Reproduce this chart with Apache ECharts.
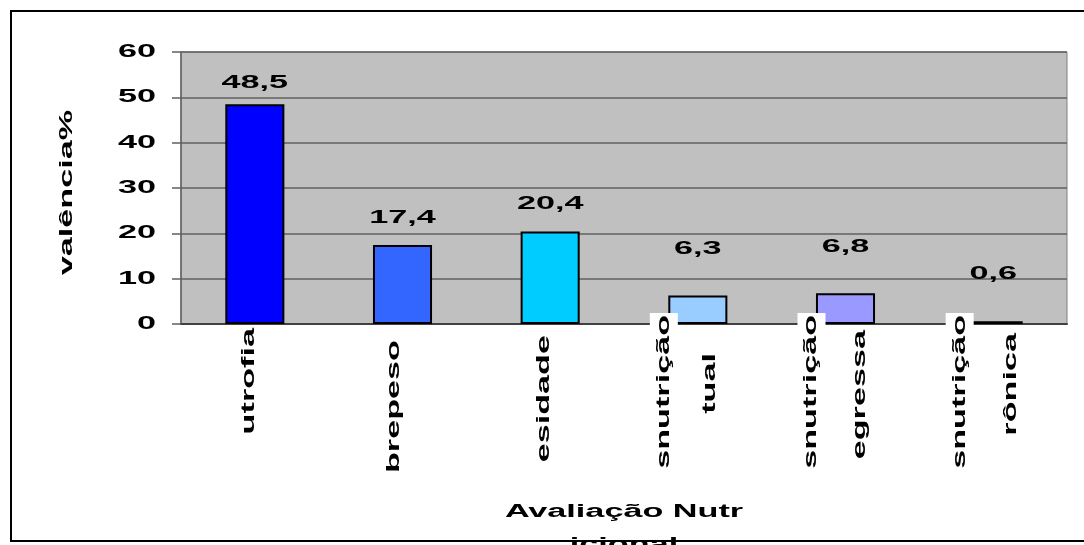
<!DOCTYPE html>
<html>
<head>
<meta charset="utf-8">
<script src="https://cdn.jsdelivr.net/npm/echarts@6/dist/echarts.min.js"></script>
<style>
  html, body { margin: 0; padding: 0; background: #fff; }
  #chart { width: 1084px; height: 545px; }
</style>
</head>
<body>
<div id="chart"></div>
<script>
// Prevalence (%) of each nutritional assessment class
const categories = ['utrofia', 'brepeso', 'esidade', 'snutrição\ntual', 'snutrição\negressa', 'snutrição\nrônica'];
const values = [48.5, 17.4, 20.4, 6.3, 6.8, 0.6];
const barColors = ['#0000ff', '#3366ff', '#00ccff', '#99ccff', '#9999ff', '#000080'];
const yTicks = [0, 10, 20, 30, 40, 50, 60];
const yTitle = 'valência%';
const xTitle = 'Avaliação Nutr\nicional';

// Text look: wide bold sans, stretched along its baseline
const FONT = 'bold 18px "Liberation Sans", Arial, sans-serif';
const STRETCH = 1.9;

// Label placement (pixels)
const valueLabelLift = [21, 27, 27.5, 46.5, 46, 47.5];          // bar top -> label centre
const catLineDx = [[-6], [-8], [-6], [-29.5, 12], [-29.5, 14.5], [-29, 18]]; // from category centre
const catLineDy = [[4], [16], [11], [-9, 29], [-9, 6], [-9, 9]];            // text end below the axis

const chart = echarts.init(document.getElementById('chart'), null, { renderer: 'canvas' });

chart.setOption({
  animation: false,
  grid: {
    left: 181, top: 52, right: 17, bottom: 221,
    show: true, backgroundColor: '#c0c0c0', borderColor: '#808080', borderWidth: 1
  },
  xAxis: {
    type: 'category',
    data: categories,
    axisLine: { lineStyle: { color: '#404040', width: 2 } },
    axisTick: { length: 6, lineStyle: { color: '#404040', width: 1.5 } },
    axisLabel: { show: false }
  },
  yAxis: {
    type: 'value', min: 0, max: 60, interval: 10,
    axisLine: { show: true, lineStyle: { color: '#606060', width: 1.5 } },
    axisTick: { show: true, length: 9, lineStyle: { color: '#606060', width: 1.5 } },
    axisLabel: { show: false },
    splitLine: { lineStyle: { color: '#606060', width: 1.5 } }
  },
  series: [{
    type: 'bar',
    barWidth: '40%',
    data: values.map((v, i) => ({ value: v, itemStyle: { color: barColors[i] } })),
    itemStyle: { borderColor: '#000', borderWidth: 2 }
  }]
});

function wideText(str, x, y, rotation, align, extraStyle) {
  return {
    type: 'text', x: x, y: y, rotation: rotation, scaleX: STRETCH, z: 100,
    style: Object.assign({
      text: str, font: FONT, fill: '#000', align: align, verticalAlign: 'middle'
    }, extraStyle || {})
  };
}

const toPx = (c, v) => chart.convertToPixel({ gridIndex: 0 }, [c, v]);
const grid = chart.getModel().getComponent('grid').coordinateSystem.getRect();
const elements = [];

// value axis tick labels
yTicks.forEach(t => {
  const y = chart.convertToPixel({ yAxisIndex: 0 }, t);
  elements.push(wideText(String(t), grid.x - 25, y, 0, 'right'));
});

// value labels above the bars
values.forEach((v, i) => {
  const p = toPx(i, v);
  elements.push(wideText(v.toFixed(1).replace('.', ','), p[0], p[1] - valueLabelLift[i], 0, 'center'));
});

// category labels, rotated, one text per line
categories.forEach((name, i) => {
  const base = toPx(i, 0);
  name.split('\n').forEach((line, j) => {
    const dx = catLineDx[i][j];
    const dy = catLineDy[i][j];
    if (dy < 0) {
      // line reaching up into the plot gets a white box
      elements.push(wideText(line, base[0] + dx - 4.5, base[1] + dy - 2, Math.PI / 2, 'right', {
        lineHeight: 18, backgroundColor: '#fff', padding: [9.5, 1, 0.5, 0]
      }));
    } else {
      elements.push(wideText(line, base[0] + dx, base[1] + dy, Math.PI / 2, 'right', { lineHeight: 18 }));
    }
  });
});

// axis titles
elements.push(wideText(yTitle, 67, grid.y + grid.height * 0.5 + 4.5, Math.PI / 2, 'center'));
elements.push(wideText(xTitle, grid.x + grid.width / 2, 528.5, 0, 'center', { lineHeight: 33 }));

// outer chart frame
elements.push({
  type: 'rect', z: 200, silent: true,
  shape: { x: 11, y: 11, width: 1200, height: 530 },
  style: { fill: 'none', stroke: '#000', lineWidth: 2 }
});

chart.setOption({ graphic: elements });
</script>
</body>
</html>
